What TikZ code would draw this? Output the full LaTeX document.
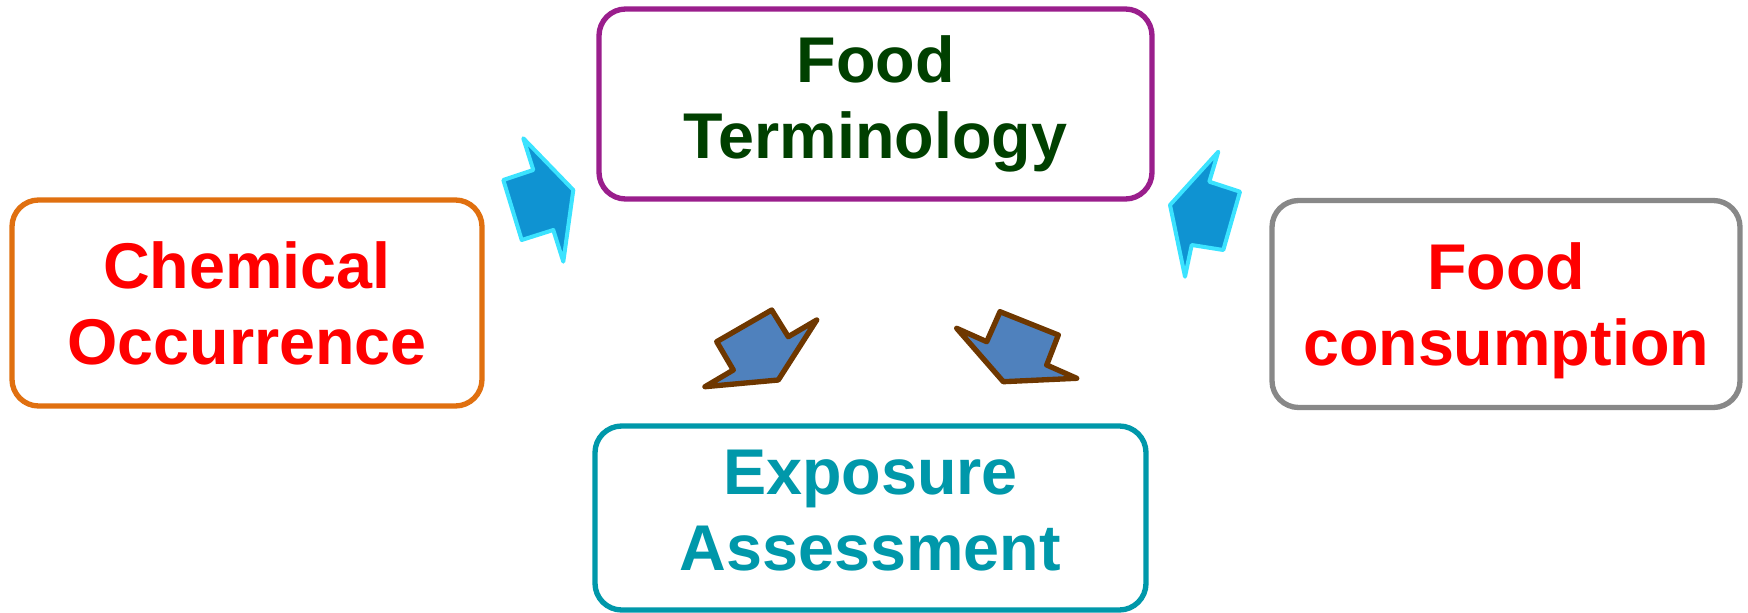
\documentclass[tikz,border=0pt]{standalone}
\usepackage{fontspec}
\setmainfont{Liberation Sans}
\usetikzlibrary{positioning}

\definecolor{termgreen}{RGB}{0,64,0}
\definecolor{termpurple}{RGB}{154,30,140}
\definecolor{chemorange}{RGB}{224,112,16}
\definecolor{consgray}{RGB}{136,136,136}
\definecolor{expoteal}{RGB}{0,152,170}
\definecolor{arrowcyan}{RGB}{15,147,210}
\definecolor{arrowrim}{RGB}{59,227,255}
\definecolor{arrowsteel}{RGB}{79,129,189}
\definecolor{arrowbrown}{RGB}{110,55,0}

\begin{document}
\begin{tikzpicture}[
    x=0.75pt, y=-0.75pt,
    font=\fontsize{48.5}{57}\selectfont\bfseries,
    box/.style={
        draw, line width=4pt,
        rounded corners=20pt,
        align=center,
        inner sep=0pt,
        fill=white
    },
    inarrow/.style={
        draw=arrowrim, fill=arrowcyan,
        line width=3pt, line join=round
    },
    outarrow/.style={
        draw=arrowbrown, fill=arrowsteel,
        line width=4pt, line join=round
    }
]
\useasboundingbox (0,0) rectangle (1748,613);

% Boxes
\node[box, draw=termpurple, text=termgreen, minimum width=414.75pt, minimum height=142.5pt] (term) at (875.5,104) {Food\\Terminology};
\node[box, draw=chemorange, text=red, minimum width=352.5pt, minimum height=154.5pt] (chem) at (247,303) {Chemical\\Occurrence};
\node[box, draw=consgray, text=red, text depth=-3pt, minimum width=351pt, minimum height=155.25pt] (cons) at (1506,304) {Food\\consumption};
\node[box, draw=expoteal, text=expoteal, text depth=12pt, minimum width=413.25pt, minimum height=138pt] (expo) at (870.5,518) {Exposure\\Assessment};

% Arrows into the terminology box
\draw[inarrow] (523.3,138.3) -- (533.3,170) -- (503.3,180) -- (521.7,240)
    -- (553.3,230) -- (563.3,261.7) -- (573.3,190) -- cycle;
\draw[inarrow] (1218.3,151.7) -- (1209.3,181.7) -- (1240,191.7) -- (1223.3,250)
    -- (1191.7,245) -- (1185,276.7) -- (1170,205) -- cycle;

% Arrows down to the assessment box
\draw[outarrow] (771.7,310) -- (788.3,336.7) -- (816.7,320) -- (778.3,380)
    -- (705,386.7) -- (733.3,370) -- (716.7,341.7) -- cycle;
\draw[outarrow] (956.7,328.3) -- (986.7,341.7) -- (1000,311.7) -- (1058.3,335)
    -- (1046.7,365) -- (1076.7,378.3) -- (1003.3,381.7) -- cycle;

\end{tikzpicture}
\end{document}
